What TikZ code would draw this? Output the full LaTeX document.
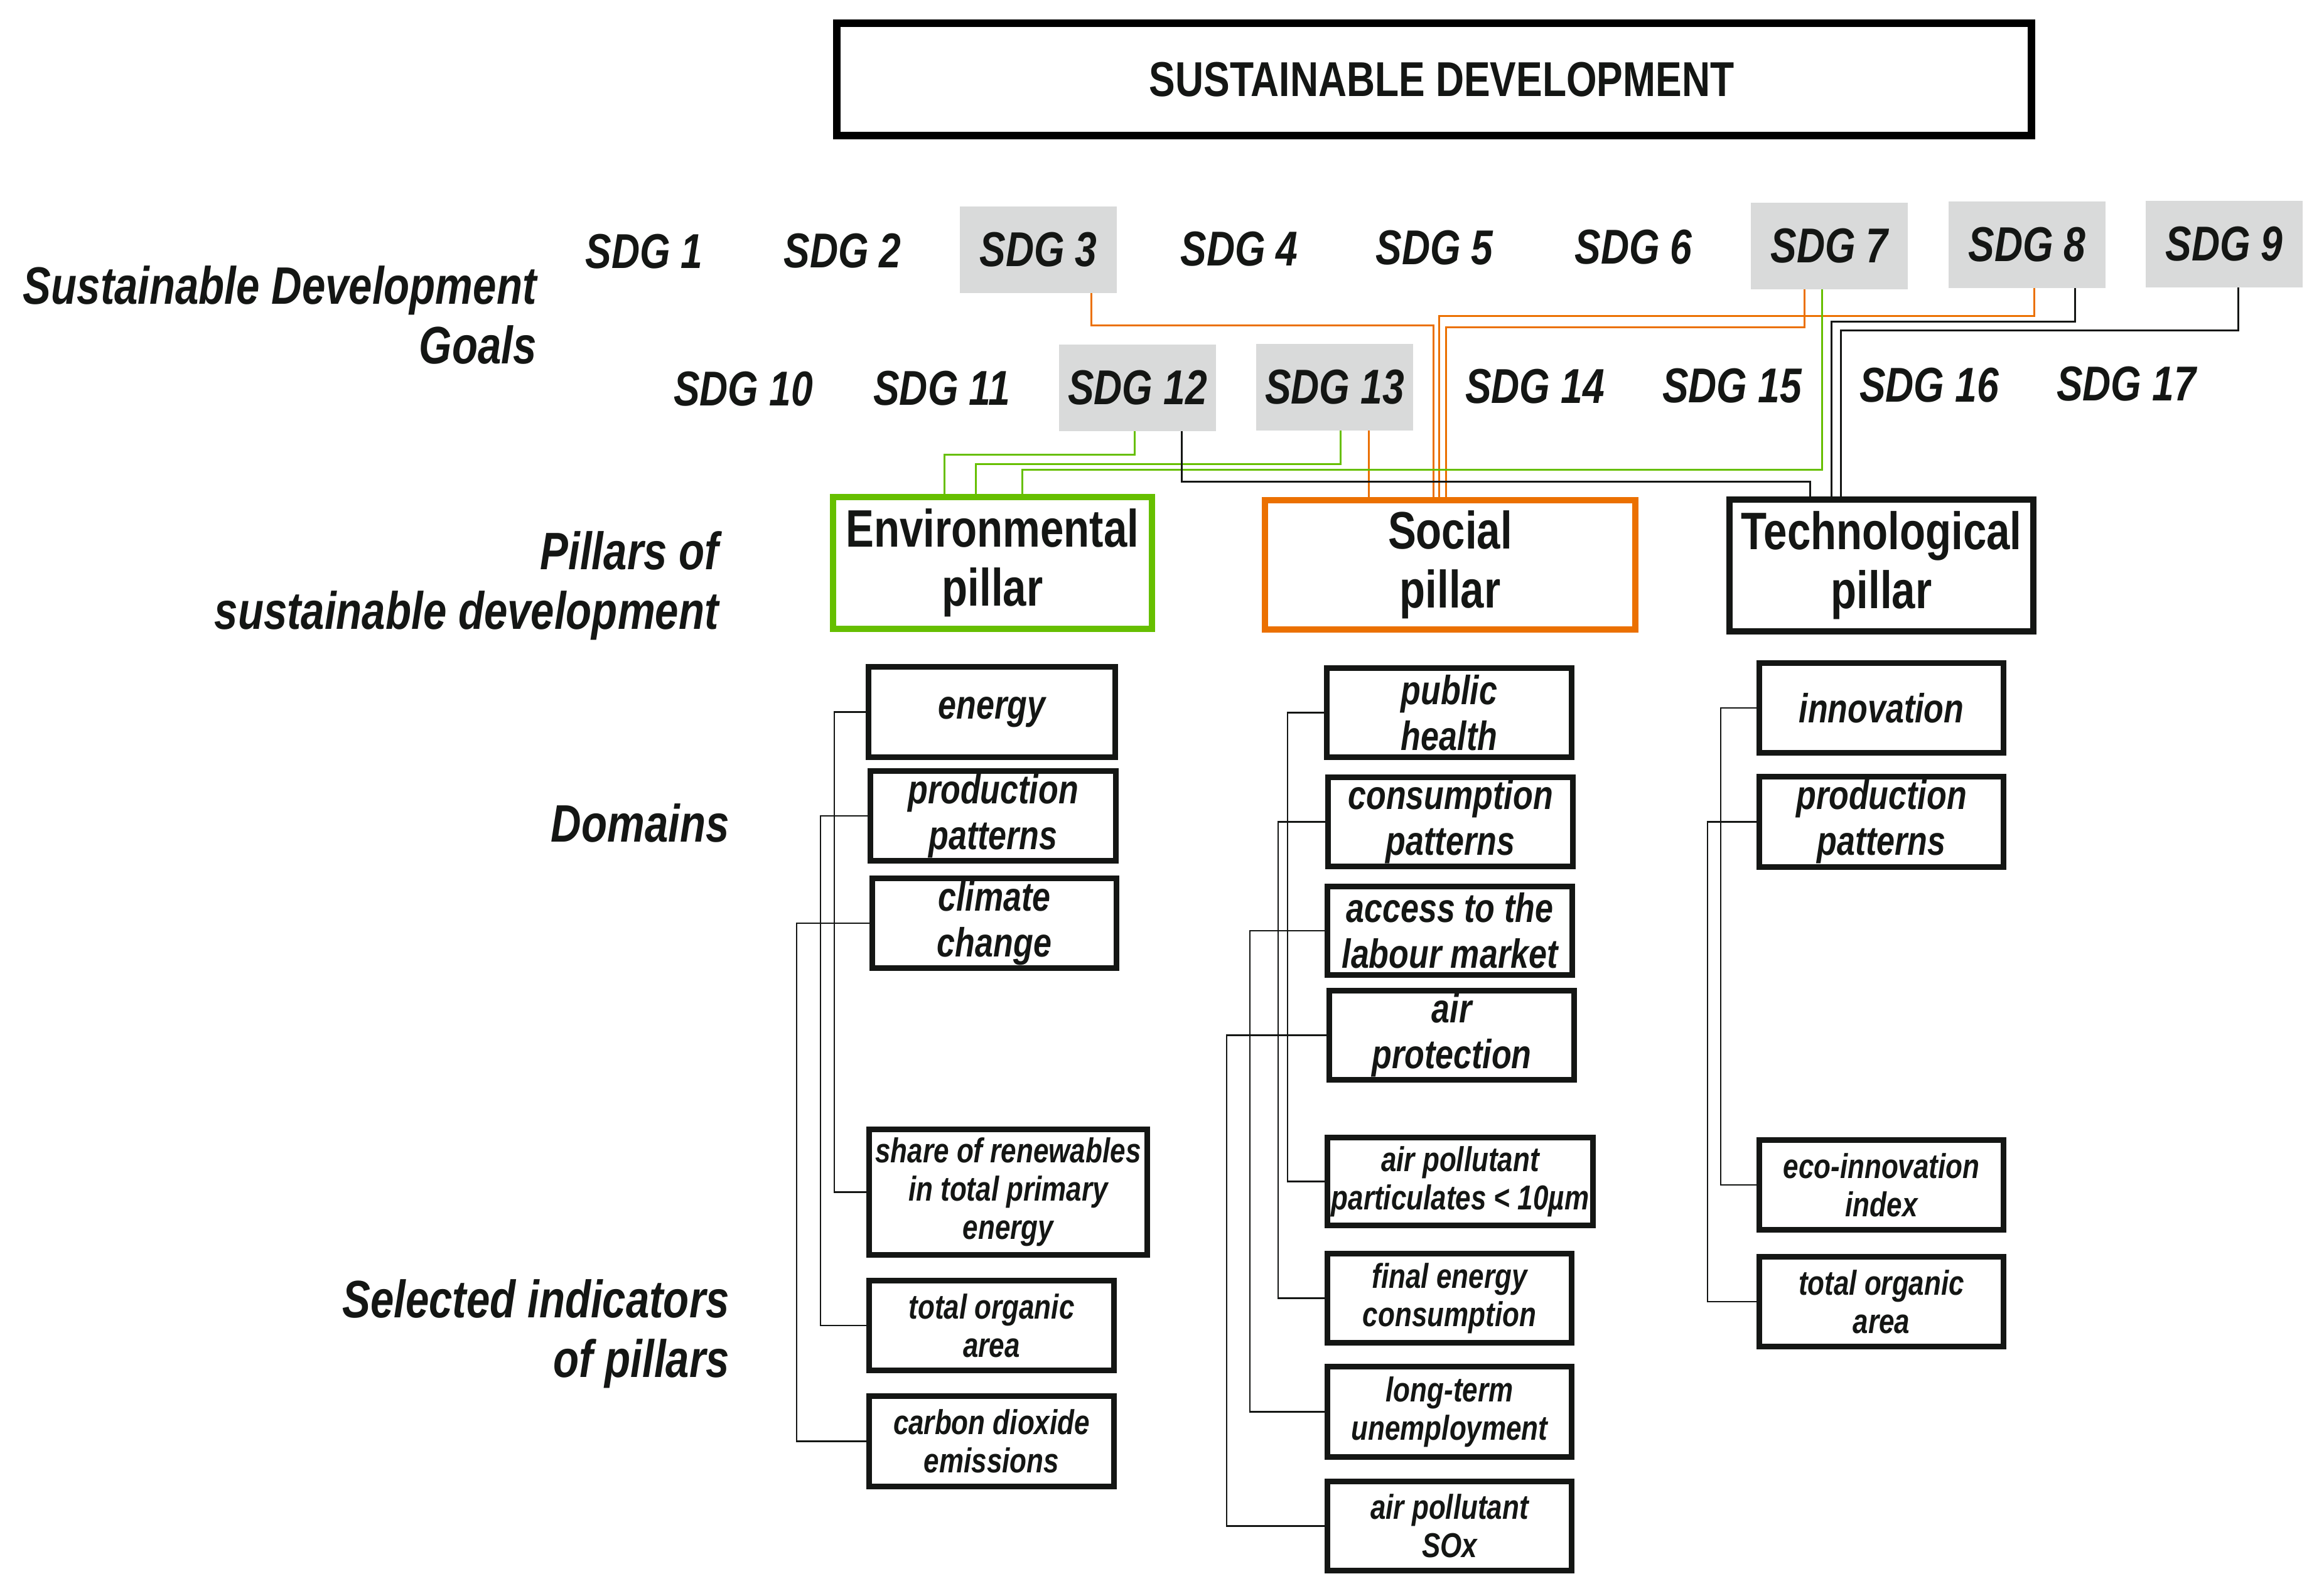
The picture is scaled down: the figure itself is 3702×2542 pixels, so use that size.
\documentclass[tikz,border=0pt]{standalone}
\usepackage{fontspec}
\newfontfamily\nf{Liberation Sans}[FakeStretch=0.8]
\usetikzlibrary{calc}
\definecolor{ink}{RGB}{20,22,20}
\definecolor{envgreen}{RGB}{102,191,0}
\definecolor{socorange}{RGB}{235,112,0}
\definecolor{sdggray}{RGB}{217,218,218}
\newcommand\topfont{\nf\bfseries\fontsize{39pt}{44pt}\selectfont}
\newcommand\sdgfont{\nf\bfseries\itshape\fontsize{39pt}{44pt}\selectfont}
\newcommand\lblfont{\nf\bfseries\itshape\fontsize{42pt}{47.5pt}\selectfont}
\newcommand\pilfont{\nf\bfseries\fontsize{42pt}{47pt}\selectfont}
\newcommand\domfont{\nf\bfseries\itshape\fontsize{32.5pt}{36.5pt}\selectfont}
\newcommand\indfont{\nf\bfseries\itshape\fontsize{27.5pt}{30.5pt}\selectfont}
\begin{document}
\begin{tikzpicture}[x=0.5pt,y=-0.5pt,
  sdg/.style={font=\sdgfont, text=ink, inner sep=0pt},
  sdgbox/.style={sdg, fill=sdggray, minimum width=125pt, minimum height=69pt},
  pil/.style={line width=5pt, inner sep=0pt, align=center, font=\pilfont, text=ink},
  dom/.style={draw=ink, line width=4.5pt, inner sep=0pt, align=center, font=\domfont, text=ink},
  ind/.style={dom, font=\indfont},
  wh/.style 2 args={minimum width={(#1-9)*0.5pt}, minimum height={(#2-9)*0.5pt}},
  lbl/.style={font=\lblfont, text=ink, align=right, inner sep=0pt, anchor=east},
  oline/.style={draw=socorange, line width=1.5pt},
  gline/.style={draw=envgreen, line width=1.5pt},
  bline/.style={draw=ink, line width=1.5pt},
  br/.style={draw=ink, line width=1.4pt},
]
\fill[white] (0,0) rectangle (3702,2542);
\useasboundingbox (0,0) rectangle (3702,2542);

% title
\node[draw=black, line width=6pt, inner sep=0pt, text=ink, font=\topfont,
      minimum width={(1915-12)*0.5pt}, minimum height={(191-12)*0.5pt}] (sd) at (2284.5,126.5) {\hspace*{12pt}SUSTAINABLE DEVELOPMENT};

% left labels
\node[lbl] (lsdg) at (855,502) {Sustainable Development\\Goals};
\node[lbl] (lpil) at (1145,933) {Pillars of\\sustainable development};
\node[lbl] (ldom) at (1162,1311) {Domains};
\node[lbl] (lind) at (1162,2125) {Selected indicators\\of pillars};

% SDG row 1
\node[sdg] (s1) at (1026,401) {SDG 1};
\node[sdg] (s2) at (1342,400) {SDG 2};
\node[sdgbox] (s3) at (1654,398) {SDG 3};
\node[sdg] (s4) at (1974,397) {SDG 4};
\node[sdg] (s5) at (2285,395) {SDG 5};
\node[sdg] (s6) at (2602,394) {SDG 6};
\node[sdgbox] (s7) at (2914,392) {SDG 7};
\node[sdgbox] (s8) at (3229,390) {SDG 8};
\node[sdgbox] (s9) at (3543,389) {SDG 9};
% SDG row 2
\node[sdg] (s10) at (1184,620) {SDG 10};
\node[sdg] (s11) at (1500,619) {SDG 11};
\node[sdgbox] (s12) at (1812,618) {SDG 12};
\node[sdgbox] (s13) at (2126,617) {SDG 13};
\node[sdg] (s14) at (2445,616) {SDG 14};
\node[sdg] (s15) at (2759,615) {SDG 15};
\node[sdg] (s16) at (3073,614) {SDG 16};
\node[sdg] (s17) at (3387,612) {SDG 17};

% pillars
\node[pil, draw=envgreen, minimum width={(518-10)*0.5pt}, minimum height={(220-10)*0.5pt}] (env) at (1581,897) {Environmental\\pillar};
\node[pil, draw=socorange, minimum width={(600-10)*0.5pt}, minimum height={(216-10)*0.5pt}] (soc) at (2310,900) {Social\\pillar};
\node[pil, draw=ink, minimum width={(494-10)*0.5pt}, minimum height={(220-10)*0.5pt}] (tech) at (2997,901) {Technological\\pillar};

% helper coordinates for SDG connectors
\coordinate (o3) at (1738,0);  \coordinate (o3h) at (2283,518);
\coordinate (o7) at (2874,0);  \coordinate (o7h) at (2303,521);
\coordinate (o8) at (3240,0);  \coordinate (o8h) at (2292,503);
\coordinate (o13) at (2180,0);
\coordinate (g7) at (2902,0);  \coordinate (g7h) at (1628,748);
\coordinate (g12) at (1807,0); \coordinate (g12h) at (1504,724);
\coordinate (g13) at (2135,0); \coordinate (g13h) at (1554,739);
\coordinate (b8) at (3305,0);  \coordinate (b8h) at (2917,512);
\coordinate (b9) at (3565,0);  \coordinate (b9h) at (2932,526);
\coordinate (b12) at (1882,0); \coordinate (b12h) at (2883,767);

\draw[oline] (s3.south -| o3) |- (o3h) -- (o3h |- soc.north);
\draw[oline] (s7.south -| o7) |- (o7h) -- (o7h |- soc.north);
\draw[oline] (s8.south -| o8) |- (o8h) -- (o8h |- soc.north);
\draw[oline] (s13.south -| o13) -- (o13 |- soc.north);
\draw[gline] (s7.south -| g7) |- (g7h) -- (g7h |- env.north);
\draw[gline] (s12.south -| g12) |- (g12h) -- (g12h |- env.north);
\draw[gline] (s13.south -| g13) |- (g13h) -- (g13h |- env.north);
\draw[bline] (s8.south -| b8) |- (b8h) -- (b8h |- tech.north);
\draw[bline] (s9.south -| b9) |- (b9h) -- (b9h |- tech.north);
\draw[bline] (s12.south -| b12) |- (b12h) -- (b12h |- tech.north);

% environmental domains / indicators
\node[dom, wh={402}{153}] (energy) at (1580,1134.5) {energy};
\node[dom, wh={400}{152}] (prodE) at (1582,1300) {production\\patterns};
\node[dom, wh={398}{152}] (climate) at (1584,1471) {climate\\change};
\node[ind, wh={452}{209}] (share) at (1606,1899.5) {share of renewables\\in total primary\\energy};
\node[ind, wh={399}{152}] (orgE) at (1579.5,2112) {total organic\\area};
\node[ind, wh={399}{153}] (carbon) at (1579.5,2296.5) {carbon dioxide\\emissions};

% social domains / indicators
\node[dom, wh={399}{151}] (public) at (2308.5,1135.5) {public\\health};
\node[dom, wh={399}{151}] (cons) at (2310.5,1309.5) {consumption\\patterns};
\node[dom, wh={399}{150}] (access) at (2309.5,1483) {access to the\\labour market};
\node[dom, wh={399}{151}] (airp) at (2312.5,1649.5) {air\\protection};
\node[ind, wh={432}{149}] (partic) at (2326,1882.5) {air pollutant\\particulates < 10µm};
\node[ind, wh={398}{151}] (finalE) at (2309,2068.5) {final energy\\consumption};
\node[ind, wh={398}{153}] (longt) at (2309,2249.5) {long-term\\unemployment};
\node[ind, wh={398}{151}] (sox) at (2309,2431.5) {air pollutant\\SOx};

% technological domains / indicators
\node[dom, wh={398}{152}] (innov) at (2997,1128) {innovation};
\node[dom, wh={398}{153}] (prodT) at (2997,1309.5) {production\\patterns};
\node[ind, wh={398}{152}] (eco) at (2997,1888) {eco-innovation\\index};
\node[ind, wh={398}{152}] (orgT) at (2997,2074) {total organic\\area};

% bracket connectors
\coordinate (xe1) at (1329,0); \coordinate (xe2) at (1307,0); \coordinate (xe3) at (1269,0);
\coordinate (xs1) at (2051,0); \coordinate (xs2) at (2036,0); \coordinate (xs3) at (1991,0); \coordinate (xs4) at (1954,0);
\coordinate (xt1) at (2741,0); \coordinate (xt2) at (2720,0);

\draw[br] (energy.west) -- (energy.west -| xe1) |- (share.west);
\draw[br] (prodE.west) -- (prodE.west -| xe2) |- (orgE.west);
\draw[br] (climate.west) -- (climate.west -| xe3) |- (carbon.west);
\draw[br] (public.west) -- (public.west -| xs1) |- (partic.west);
\draw[br] (cons.west) -- (cons.west -| xs2) |- (finalE.west);
\draw[br] (access.west) -- (access.west -| xs3) |- (longt.west);
\draw[br] (airp.west) -- (airp.west -| xs4) |- (sox.west);
\draw[br] (innov.west) -- (innov.west -| xt1) |- (eco.west);
\draw[br] (prodT.west) -- (prodT.west -| xt2) |- (orgT.west);
\end{tikzpicture}
\end{document}
